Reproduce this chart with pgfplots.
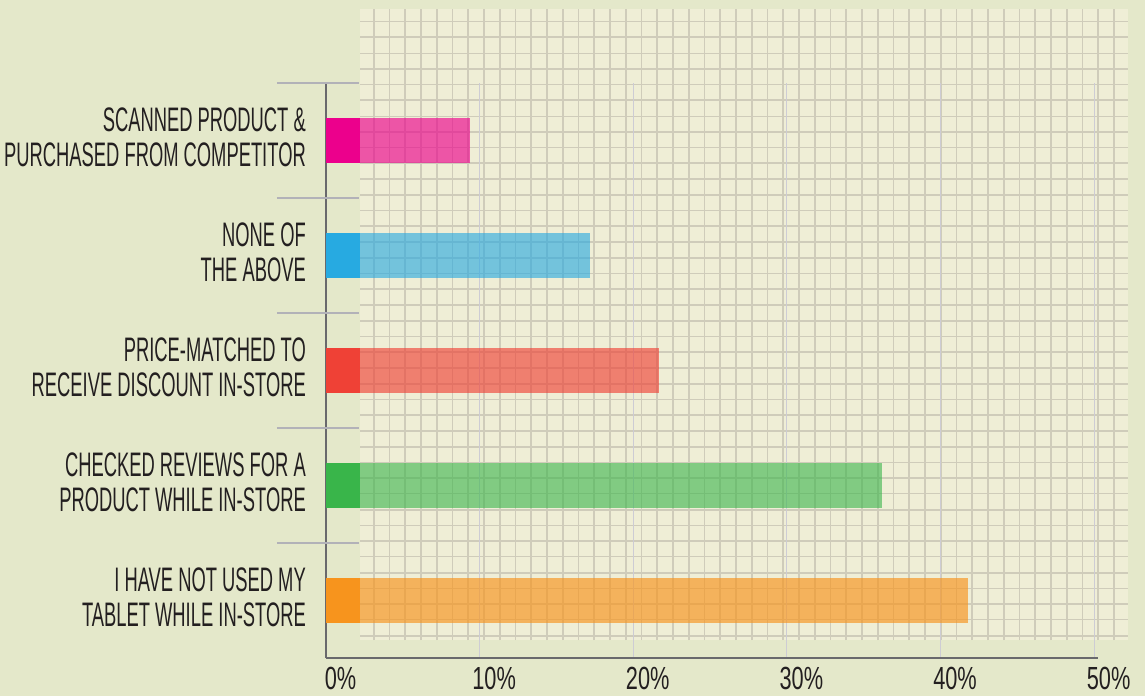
\documentclass[border=0pt]{standalone}
\usepackage{pgfplots}
\pgfplotsset{compat=1.18}
\usepackage{fontspec}
\setmainfont{Liberation Sans}[FakeStretch=0.54]
\newfontfamily\tickfont{Liberation Sans}[FakeStretch=0.68]
\definecolor{outerbg}{RGB}{228,232,202}
\definecolor{paper}{RGB}{239,238,214}
\definecolor{gridc}{RGB}{207,204,186}
\definecolor{tickgrid}{RGB}{205,204,212}
\definecolor{axisc}{RGB}{105,105,108}
\definecolor{sepc}{RGB}{178,178,184}
\definecolor{pinkc}{RGB}{236,0,140}
\definecolor{bluec}{RGB}{39,170,225}
\definecolor{redc}{RGB}{239,65,54}
\definecolor{greenc}{RGB}{57,181,74}
\definecolor{orangec}{RGB}{247,148,29}
\definecolor{txt}{RGB}{35,31,32}
\begin{document}
\begin{tikzpicture}[x=1pt,y=1pt]
\fill[outerbg] (-326,-38) rectangle (819,658);
\fill[paper] (34,18) rectangle (802,649);
\foreach \k in {0,2,...,46}{\draw[gridc, line width=2pt] ({47.7+15.75*\k},18) -- ++(0,631);}
\foreach \k in {1,3,...,47}{\draw[gridc, line width=1.2pt] ({47.7+15.75*\k},18) -- ++(0,631);}
\foreach \k in {1,3,...,39}{\draw[gridc, line width=2pt] (34,{636.3-15.74*\k}) -- ++(768,0);}
\foreach \k in {0,2,...,38}{\draw[gridc, line width=1.2pt] (34,{636.3-15.74*\k}) -- ++(768,0);}
\begin{axis}[
  at={(0,0)}, anchor=south west, scale only axis,
  width=772pt, height=575pt,
  xmin=0, xmax=50.25, ymin=-0.5, ymax=4.5,
  axis lines*=left,
  axis line style={draw=axisc, line width=1.6pt},
  clip=false,
  xtick={0,10,20,30,40,50},
  xticklabels={0\%,10\%,20\%,30\%,40\%,50\%},
  major tick length=0pt,
  xmajorgrids,
  major grid style={draw=tickgrid, line width=1pt},
  ytick={0,1,2,3,4},
  yticklabels={{I HAVE NOT USED MY\\TABLET WHILE IN-STORE},
               {CHECKED REVIEWS FOR A\\PRODUCT WHILE IN-STORE},
               {PRICE-MATCHED TO\\RECEIVE DISCOUNT IN-STORE},
               {NONE OF\\THE ABOVE},
               {SCANNED PRODUCT \&\\PURCHASED FROM COMPETITOR}},
  yticklabel style={align=right, anchor=east, inner sep=0pt, xshift=-20pt, yshift=3pt,
    font=\fontsize{34}{35}\selectfont, text=txt},
  xticklabel style={anchor=base, inner sep=0pt, yshift=-31pt, xshift=14.5pt,
    font=\tickfont\fontsize{32}{32}\selectfont, text=txt},
  /pgf/number format/assume math mode=true,
  xbar, bar width=45pt, bar shift=0pt,
]
\addplot[fill=orangec, fill opacity=0.66, draw=none] coordinates {(41.8,0)};
\addplot[fill=greenc, fill opacity=0.6, draw=none] coordinates {(36.2,1)};
\addplot[fill=redc, fill opacity=0.64, draw=none] coordinates {(21.7,2)};
\addplot[fill=bluec, fill opacity=0.62, draw=none] coordinates {(17.2,3)};
\addplot[fill=pinkc, fill opacity=0.64, draw=none] coordinates {(9.4,4)};
\addplot[fill=orangec, draw=none] coordinates {(2.21,0)};
\addplot[fill=greenc, draw=none] coordinates {(2.21,1)};
\addplot[fill=redc, draw=none] coordinates {(2.21,2)};
\addplot[fill=bluec, draw=none] coordinates {(2.21,3)};
\addplot[fill=pinkc, draw=none] coordinates {(2.21,4)};
\draw[sepc, line width=1.5pt] (axis cs:-3.19,0.5) -- (axis cs:2.15,0.5);
\draw[sepc, line width=1.5pt] (axis cs:-3.19,1.5) -- (axis cs:2.15,1.5);
\draw[sepc, line width=1.5pt] (axis cs:-3.19,2.5) -- (axis cs:2.15,2.5);
\draw[sepc, line width=1.5pt] (axis cs:-3.19,3.5) -- (axis cs:2.15,3.5);
\draw[sepc, line width=1.5pt] (axis cs:-3.19,4.5) -- (axis cs:2.15,4.5);
\end{axis}
\pgfresetboundingbox
\path[use as bounding box] (-326,-38) rectangle (819,658);
\end{tikzpicture}
\end{document}
